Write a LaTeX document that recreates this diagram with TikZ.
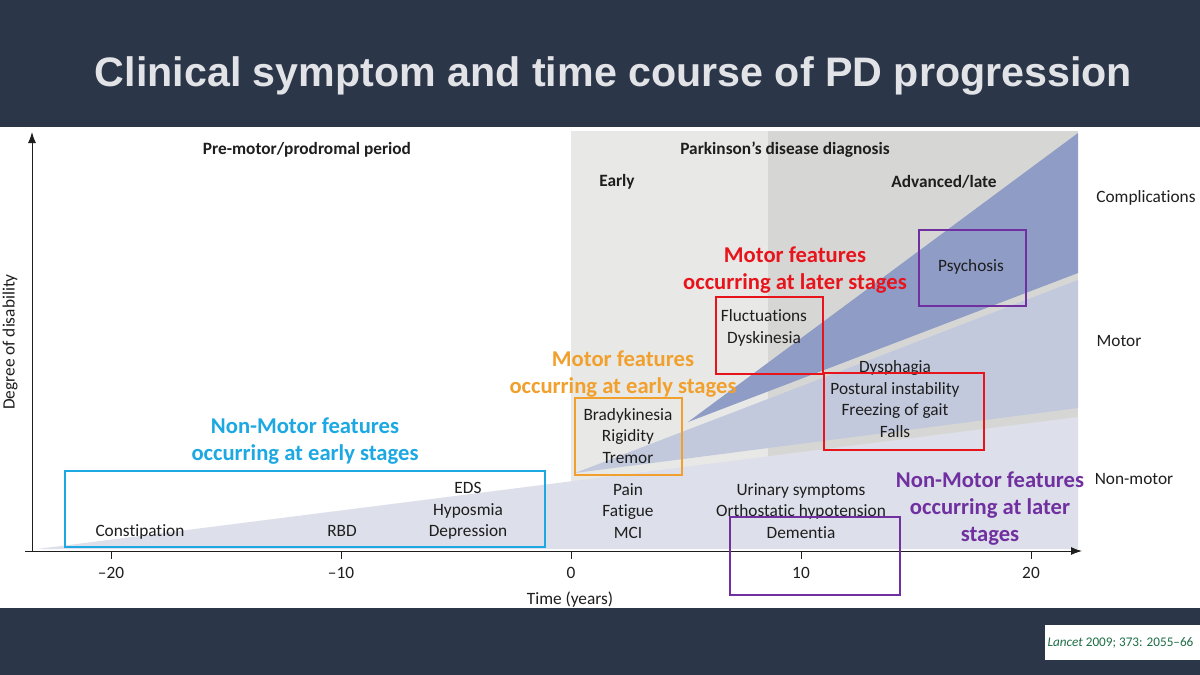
\documentclass[tikz,border=0pt]{standalone}
\usepackage{fontspec}
\setmainfont{Carlito}[Ligatures={NoCommon}]
\newfontfamily\titlefont{Liberation Sans}
\usetikzlibrary{arrows.meta}
\definecolor{navy}{RGB}{43,54,73}
\definecolor{titlegray}{RGB}{226,227,231}
\definecolor{lgray}{RGB}{232,233,230}
\definecolor{dgray}{RGB}{214,215,212}
\definecolor{nonmotorc}{RGB}{221,224,234}
\definecolor{motorc}{RGB}{195,201,221}
\definecolor{complc}{RGB}{142,156,198}
\definecolor{txt}{RGB}{30,30,30}
\definecolor{ccyan}{RGB}{28,168,226}
\definecolor{corange}{RGB}{242,160,45}
\definecolor{cred}{RGB}{232,20,28}
\definecolor{cpurple}{RGB}{112,48,160}
\definecolor{cgreen}{RGB}{30,110,70}
\tikzset{
  fig/.style={text=txt, font=\fontsize{17.3}{21.5}\selectfont, align=center, inner sep=0pt},
  figb/.style={fig, font=\fontsize{17.3}{21.5}\selectfont\bfseries},
  note/.style={font=\fontsize{22.6}{27}\selectfont\bfseries, align=center, inner sep=0pt},
  hbox/.style={draw, line width=2.3pt, inner sep=0pt, rectangle},
  axisline/.style={line width=1pt, draw=txt, -{Latex[length=11pt,width=8pt]}},
  tick/.style={line width=1pt, draw=txt}
}
\begin{document}
\begin{tikzpicture}[x=1pt,y=-1pt]
\useasboundingbox (0,0) rectangle (1200,675);
% bands
\fill[white] (0,0) rectangle (1200,675);
\fill[navy] (0,0) rectangle (1200,127);
\fill[navy] (0,608) rectangle (1200,675);
\node[font=\titlefont\fontsize{41.2}{46}\selectfont\bfseries, text=titlegray, inner sep=0pt, anchor=base] (title) at (613.5,86) {Clinical symptom and time course of PD progression};
% citation
\fill[white] (1045,625) rectangle (1200,660);
\node[text=cgreen, font=\fontsize{13.2}{15}\selectfont, inner sep=0pt] (cite) at (1120.5,643) {\textit{Lancet} 2009; 373: 2055–66};
% gray periods
\fill[lgray] (571,131) rectangle (1078,549);
\fill[dgray] (768,131) rectangle (1078,549);
% wedges
\fill[nonmotorc] (37,549) -- (1078,549) -- (1078,417) -- cycle;
\fill[motorc] (575,473) -- (1078,408) -- (1078,280) -- cycle;
\fill[complc] (688,422) -- (1078,273) -- (1078,133) -- cycle;
% axes
\coordinate (yo) at (32,551);
\coordinate (ytop) at (32,132);
\coordinate (xo) at (25,551);
\coordinate (xend) at (1082,551);
\draw[axisline] (yo) -- (ytop);
\draw[axisline] (xo) -- (xend);
\foreach \t/\lab/\nm in {-20/–20/a,-10/–10/b,0/0/c,10/10/d,20/20/e}{
  \coordinate (tk\nm) at ({571+23*\t},551);
  \draw[tick] (tk\nm) -- ++(0,8);
  \node[fig] (tl\nm) at ({571+23*\t},573) {\lab};
}
\node[fig] (xlabel) at (570,600) {Time (years)};
\node[fig, rotate=90] (ylabel) at (10,342) {Degree of disability};
% headers
\node[figb] (pre) at (307,150) {Pre-motor/prodromal period};
\node[figb] (diag) at (785,150) {Parkinson’s disease diagnosis};
\node[figb] (early) at (617,182) {Early};
\node[figb] (adv) at (944,182) {Advanced/late};
\node[fig] (compl) at (1146,198) {Complications};
\node[fig] (motor) at (1119,341) {Motor};
\node[fig] (nonmotor) at (1134,479) {Non-motor};
% symptoms
\node[fig] (psy) at (971,267) {Psychosis};
\node[fig] (fluct) at (764,328) {Fluctuations\\Dyskinesia};
\node[fig] (dysph) at (895,399) {Dysphagia\\Postural instability\\Freezing of gait\\Falls};
\node[fig] (brady) at (628,436) {Bradykinesia\\Rigidity\\Tremor};
\node[fig] (pain) at (628,511) {Pain\\Fatigue\\MCI};
\node[fig] (urin) at (801,511) {Urinary symptoms\\Orthostatic hypotension\\Dementia};
\node[fig] (eds) at (468,511) {EDS\\Hyposmia\\Depression};
\node[fig, anchor=base] (rbd) at (342,536.5) {RBD};
\node[fig, anchor=base] (const) at (140,536.5) {Constipation};
% highlight boxes
\node[hbox, draw=ccyan, minimum width=480pt, minimum height=76pt] (bcyan) at (305,509) {};
\node[hbox, draw=corange, minimum width=107pt, minimum height=77pt] (borange) at (628.5,436.5) {};
\node[hbox, draw=cred, minimum width=107pt, minimum height=77pt] (bred1) at (769.5,335.5) {};
\node[hbox, draw=cred, minimum width=160pt, minimum height=77pt] (bred2) at (904,411.5) {};
\node[hbox, draw=cpurple, minimum width=107pt, minimum height=76pt] (bpur1) at (972.5,268) {};
\node[hbox, draw=cpurple, minimum width=170pt, minimum height=78pt] (bpur2) at (815,556) {};
% annotations
\node[note, text=ccyan] (ncyan) at (305,441) {Non-Motor features\\occurring at early stages};
\node[note, text=corange] (norange) at (623,374) {Motor features\\occurring at early stages};
\node[note, text=cred] (nred) at (795,270) {Motor features\\occurring at later stages};
\node[note, text=cpurple] (npur) at (990,509) {Non-Motor features\\occurring at later\\stages};
\end{tikzpicture}
\end{document}
